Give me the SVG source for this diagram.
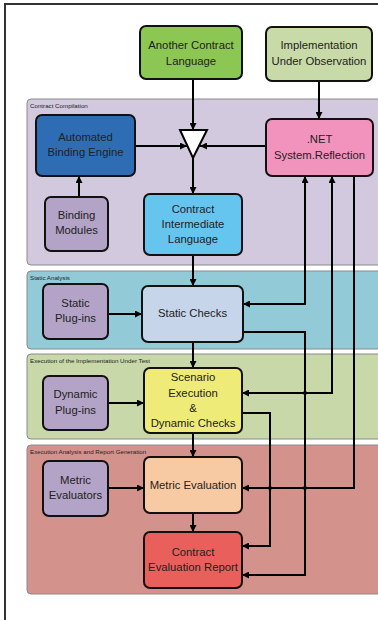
<svg xmlns="http://www.w3.org/2000/svg" width="378" height="620" viewBox="0 0 378 620">
<defs>
<marker id="ah" viewBox="0 0 8 8" refX="8" refY="4" markerWidth="7" markerHeight="7" markerUnits="userSpaceOnUse" orient="auto-start-reverse">
<path d="M0,0 L8,4 L0,8 z" fill="#000"/>
</marker>
<style>
.panel{stroke:#8a8a8a;stroke-width:1}
.plabel{font-family:"Liberation Sans",Arial,sans-serif;font-size:6.2px;fill:#222}
.node{stroke:#111;stroke-width:2}
.t{font-family:"Liberation Sans",Arial,sans-serif;font-size:11.3px;fill:#222;text-anchor:middle}
.c{fill:none;stroke:#000;stroke-width:2}
.a{marker-end:url(#ah)}
.b{marker-start:url(#ah);marker-end:url(#ah)}
</style>
</defs>
<rect x="0" y="0" width="378" height="620" fill="#fff"/>
<rect x="5" y="4" width="400" height="640" fill="none" stroke="#333" stroke-width="2"/>
<g id="panels">
<rect class="panel" x="27" y="99" width="370" height="166" rx="4" fill="#d2c9df"/>
<text class="plabel" x="30" y="108">Contract Compilation</text>
<rect class="panel" x="27" y="271" width="370" height="78" rx="4" fill="#93cad8"/>
<text class="plabel" x="30" y="280">Static Analysis</text>
<rect class="panel" x="27" y="354" width="370" height="85" rx="4" fill="#c8d8a9"/>
<text class="plabel" x="30" y="363">Execution of the Implementation Under Test</text>
<rect class="panel" x="27" y="445" width="370" height="149" rx="4" fill="#d4928d"/>
<text class="plabel" x="30" y="454">Execution Analysis and Report Generation</text>
</g>
<g id="connectors">
<path class="c a" d="M193,79 V130"/>
<path class="c a" d="M319,81 V119"/>
<path class="c a" d="M135,146 H187"/>
<path class="c a" d="M266,146 H200"/>
<path class="c a" d="M193,158 V194"/>
<path class="c a" d="M79,197 V176"/>
<path class="c a" d="M193,255 V286"/>
<path class="c a" d="M108,314 H142"/>
<path class="c b" d="M243,304 H305 V176"/>
<path class="c a" d="M243,332 H305 V575 H242"/>
<path class="c b" d="M242,393 H332 V176"/>
<path class="c a" d="M354,176 V488 H242"/>
<path class="c a" d="M193,342 V368"/>
<path class="c a" d="M108,403 H144"/>
<path class="c a" d="M193,433 V457"/>
<path class="c a" d="M242,413 H270 V546 H242"/>
<path class="c a" d="M108,488 H144"/>
<path class="c a" d="M193,513 V532"/>
<circle cx="305" cy="393" r="2" fill="#000"/>
<circle cx="270" cy="488" r="2" fill="#000"/>
<circle cx="305" cy="488" r="2" fill="#000"/>
</g>
<g id="another-contract-language">
<rect class="node" x="140" y="26" width="102" height="53" rx="6" fill="#8cc653"/>
<text class="t" x="191" y="48.5">Another Contract</text>
<text class="t" x="191" y="64.5">Language</text>
</g>
<g id="implementation-under-observation">
<rect class="node" x="266" y="27" width="106" height="54" rx="6" fill="#c9daa9"/>
<text class="t" x="319" y="49">Implementation</text>
<text class="t" x="319" y="65">Under Observation</text>
</g>
<g id="automated-binding-engine">
<rect class="node" x="36" y="115" width="99" height="61" rx="6" fill="#2e6db4"/>
<text class="t" x="85.5" y="141">Automated</text>
<text class="t" x="85.5" y="156">Binding Engine</text>
</g>
<g id="merge">
<polygon points="180,130 207,130 193,158" fill="#fff" stroke="#000" stroke-width="2" stroke-linejoin="miter"/>
</g>
<g id="net-reflection">
<rect class="node" x="266" y="119" width="107" height="57" rx="6" fill="#f293be"/>
<text class="t" x="319.5" y="143">.NET</text>
<text class="t" x="319.5" y="159">System.Reflection</text>
</g>
<g id="binding-modules">
<rect class="node" x="45" y="197" width="63" height="54" rx="6" fill="#b3a3c7"/>
<text class="t" x="76.5" y="219">Binding</text>
<text class="t" x="76.5" y="234">Modules</text>
</g>
<g id="contract-intermediate-language">
<rect class="node" x="144" y="194" width="98" height="61" rx="6" fill="#66c5ef"/>
<text class="t" x="193" y="213">Contract</text>
<text class="t" x="193" y="228">Intermediate</text>
<text class="t" x="193" y="243">Language</text>
</g>
<g id="static-plugins">
<rect class="node" x="43" y="284" width="65" height="55" rx="6" fill="#b3a3c7"/>
<text class="t" x="75.5" y="307">Static</text>
<text class="t" x="75.5" y="322">Plug-ins</text>
</g>
<g id="static-checks">
<rect class="node" x="142" y="286" width="101" height="56" rx="6" fill="#c6d5e9"/>
<text class="t" x="192.5" y="317">Static Checks</text>
</g>
<g id="dynamic-plugins">
<rect class="node" x="43" y="376" width="65" height="54" rx="6" fill="#b3a3c7"/>
<text class="t" x="75.5" y="398">Dynamic</text>
<text class="t" x="75.5" y="414">Plug-ins</text>
</g>
<g id="scenario-execution">
<rect class="node" x="144" y="368" width="98" height="65" rx="6" fill="#efeb79"/>
<text class="t" x="193" y="381">Scenario</text>
<text class="t" x="193" y="397">Execution</text>
<text class="t" x="193" y="412">&amp;</text>
<text class="t" x="193" y="427">Dynamic Checks</text>
</g>
<g id="metric-evaluators">
<rect class="node" x="43" y="461" width="65" height="55" rx="6" fill="#b3a3c7"/>
<text class="t" x="75.5" y="484">Metric</text>
<text class="t" x="75.5" y="499">Evaluators</text>
</g>
<g id="metric-evaluation">
<rect class="node" x="144" y="457" width="98" height="56" rx="6" fill="#f7caa3"/>
<text class="t" x="193" y="489">Metric Evaluation</text>
</g>
<g id="contract-evaluation-report">
<rect class="node" x="144" y="532" width="98" height="56" rx="6" fill="#e95f5b"/>
<text class="t" x="193" y="556">Contract</text>
<text class="t" x="193" y="571">Evaluation Report</text>
</g>
</svg>
